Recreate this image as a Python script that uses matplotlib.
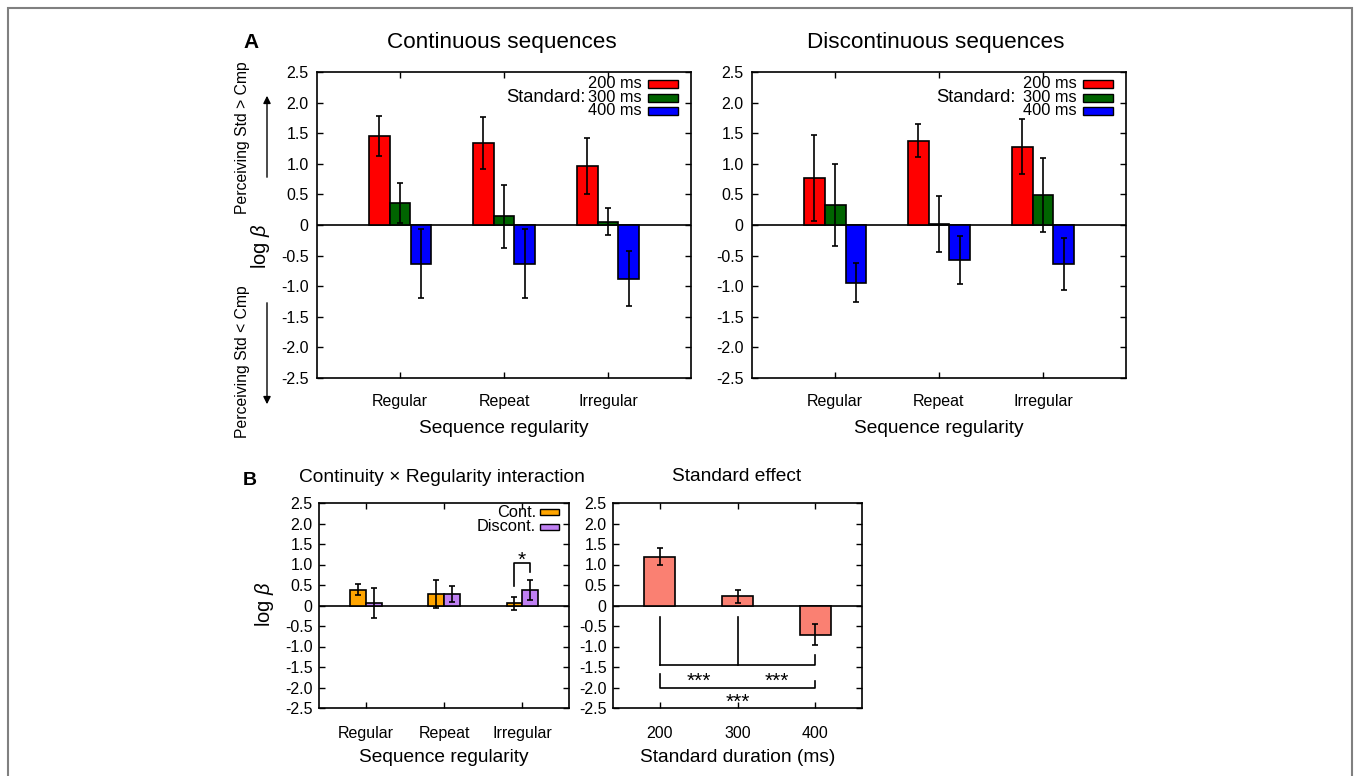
import matplotlib
matplotlib.use('Agg')
import matplotlib.pyplot as plt
from matplotlib.patches import Rectangle, FancyArrowPatch
import numpy as np

plt.rcParams['font.family'] = ['Liberation Sans', 'DejaVu Sans']
plt.rcParams['mathtext.fontset'] = 'custom'
plt.rcParams['mathtext.it'] = 'Liberation Sans:italic'
plt.rcParams['mathtext.rm'] = 'Liberation Sans'

# ---------------- data ----------------
regularity = ['Regular', 'Repeat', 'Irregular']
standard_labels = ['200 ms', '300 ms', '400 ms']

cont_200 = [1.45, 1.34, 0.96]
cont_300 = [0.36, 0.14, 0.05]
cont_400 = [-0.63, -0.63, -0.88]
cont_200_err = [0.33, 0.42, 0.46]
cont_300_err = [0.33, 0.52, 0.22]
cont_400_err = [0.56, 0.57, 0.45]

disc_200 = [0.77, 1.38, 1.28]
disc_300 = [0.33, 0.02, 0.49]
disc_400 = [-0.94, -0.57, -0.64]
disc_200_err = [0.70, 0.27, 0.45]
disc_300_err = [0.67, 0.46, 0.61]
disc_400_err = [0.32, 0.39, 0.43]

inter_labels = ['Cont.', 'Discont.']
inter_cont = [0.39, 0.28, 0.05]
inter_cont_err = [0.14, 0.34, 0.15]
inter_disc = [0.06, 0.28, 0.37]
inter_disc_err = [0.355, 0.205, 0.245]

durations = ['200', '300', '400']
std_effect = [1.19, 0.23, -0.71]
std_effect_err = [0.205, 0.16, 0.26]

ytick_vals = [2.5, 2.0, 1.5, 1.0, 0.5, 0, -0.5, -1.0, -1.5, -2.0, -2.5]
ytick_labels = ['2.5', '2.0', '1.5', '1.0', '0.5', '0', '-0.5', '-1.0', '-1.5', '-2.0', '-2.5']

# ---------------- style ----------------
W, H = 1356, 776
RED, GREEN, BLUE = '#ff0000', '#006400', '#0000ff'
ORANGE, PURPLE, SALMON = '#ffa500', '#bf80f2', '#fa8072'
LW = 1.2
TICK_FS = 11.5

fig = plt.figure(figsize=(W / 100, H / 100), dpi=100)


def fx(px):
    return px / W


def fy(py):
    return 1 - py / H


def make_ax(x0, y0, x1, y1):
    return fig.add_axes([fx(x0), fy(y1), fx(x1) - fx(x0), fy(y0) - fy(y1)])


def style_ax(ax, xlim, cats, xpad, ypad):
    ax.set_xlim(*xlim)
    ax.set_ylim(-2.5, 2.5)
    ax.set_xticks(range(len(cats)))
    ax.set_xticklabels(cats, fontsize=TICK_FS)
    ax.set_yticks(ytick_vals)
    ax.set_yticklabels(ytick_labels, fontsize=TICK_FS)
    ax.tick_params(direction='in', top=True, right=True, length=4, width=1.0,
                   colors='black')
    ax.tick_params(axis='x', pad=xpad)
    ax.tick_params(axis='y', pad=ypad)
    for s in ax.spines.values():
        s.set_linewidth(LW)
    ax.axhline(0, color='black', lw=LW, zorder=1)


ekw = dict(elinewidth=LW, capthick=LW, ecolor='black')

# ---------------- panel A ----------------
axA1 = make_ax(317, 72, 691, 378)
axA2 = make_ax(752, 72, 1126, 378)
x3 = np.arange(len(regularity))
bw = 0.2
for ax, series, std_x in [
    (axA1, [(cont_200, cont_200_err, RED), (cont_300, cont_300_err, GREEN),
            (cont_400, cont_400_err, BLUE)], 0.718),
    (axA2, [(disc_200, disc_200_err, RED), (disc_300, disc_300_err, GREEN),
            (disc_400, disc_400_err, BLUE)], 0.705)]:
    style_ax(ax, (-0.8, 2.8), regularity, 11.5, 6)
    for i, (vals, err, col) in enumerate(series):
        ax.bar(x3 + (i - 1) * bw, vals, bw, color=col, edgecolor='black',
               linewidth=LW, yerr=err, capsize=2.5, error_kw=ekw, zorder=2)
    # legend (gnuplot-like)
    ys = [0.961, 0.916, 0.873]
    for (vals, err, col), lab, yy in zip(series, standard_labels, ys):
        ax.add_patch(Rectangle((0.885, yy - 0.013), 0.08, 0.026,
                               transform=ax.transAxes, facecolor=col,
                               edgecolor='black', lw=1.0, zorder=5))
        ax.text(0.869, yy, lab, transform=ax.transAxes, ha='right',
                va='center', fontsize=11.8, zorder=5)
    ax.text(std_x, 0.916, 'Standard:', transform=ax.transAxes, ha='right',
            va='center', fontsize=13.2, zorder=5)
    ax.set_xlabel('Sequence regularity', fontsize=13.8)
    ax.xaxis.set_label_coords(0.5, -0.137)
    ax.xaxis.label.set_va('top')

fig.text(fx(251), fy(48), 'A', ha='center', va='baseline', fontsize=15,
         fontweight='bold')
fig.text(fx(502), fy(48), 'Continuous sequences', ha='center', va='baseline',
         fontsize=16.2)
fig.text(fx(936), fy(48), 'Discontinuous sequences', ha='center',
         va='baseline', fontsize=16.2)
fig.text(fx(242), fy(138), 'Perceiving Std > Cmp', rotation=90, ha='center',
         va='center', fontsize=11.3)
fig.text(fx(242), fy(362), 'Perceiving Std < Cmp', rotation=90, ha='center',
         va='center', fontsize=11.3)
fig.text(fx(261), fy(246), r'log $\it{\beta}$', rotation=90, ha='center',
         va='center', fontsize=14.5)
for (ya, yb) in [(180, 93), (300, 407)]:
    fig.patches.append(FancyArrowPatch((fx(267), fy(ya)), (fx(267), fy(yb)),
                                       transform=fig.transFigure,
                                       arrowstyle='-|>', mutation_scale=11,
                                       lw=1.0, color='black'))

# ---------------- panel B left ----------------
axB1 = make_ax(319, 503, 569, 708)
style_ax(axB1, (-0.6, 2.6), regularity, 13, 4.5)
bw2 = 0.2
axB1.bar(x3 - 0.1, inter_cont, bw2, color=ORANGE, edgecolor='black',
         linewidth=LW, yerr=inter_cont_err, capsize=2, error_kw=ekw, zorder=2)
axB1.bar(x3 + 0.1, inter_disc, bw2, color=PURPLE, edgecolor='black',
         linewidth=LW, yerr=inter_disc_err, capsize=2, error_kw=ekw, zorder=2)
for col, lab, yy in zip([ORANGE, PURPLE], inter_labels, [0.956, 0.883]):
    axB1.add_patch(Rectangle((0.884, yy - 0.013), 0.076, 0.026,
                             transform=axB1.transAxes, facecolor=col,
                             edgecolor='black', lw=1.0, zorder=5))
    axB1.text(0.868, yy, lab, transform=axB1.transAxes, ha='right',
              va='center', fontsize=11.8, zorder=5)
# significance bracket
axB1.plot([1.9, 1.9, 2.1, 2.1], [0.47, 1.03, 1.03, 0.81], color='black',
          lw=LW, zorder=3)
axB1.annotate('*', (2.0, 1.22), xytext=(0, -7.5), textcoords='offset points',
              ha='center', va='baseline', fontsize=15)
axB1.set_xlabel('Sequence regularity', fontsize=13.8)
axB1.xaxis.set_label_coords(0.5, -0.2)
axB1.xaxis.label.set_va('top')

fig.text(fx(250), fy(485), 'B', ha='center', va='baseline', fontsize=14,
         fontweight='bold')
fig.text(fx(442), fy(482), 'Continuity × Regularity interaction',
         ha='center', va='baseline', fontsize=13.8)
fig.text(fx(737), fy(481), 'Standard effect', ha='center', va='baseline',
         fontsize=13.8)
fig.text(fx(265), fy(604), r'log $\it{\beta}$', rotation=90, ha='center',
         va='center', fontsize=14.5)

# ---------------- panel B right ----------------
axB2 = make_ax(613, 503, 862, 708)
style_ax(axB2, (-0.6, 2.6), durations, 13, 4.5)
xd = np.arange(len(durations))
axB2.bar(xd, std_effect, 0.4, color=SALMON, edgecolor='black', linewidth=LW,
         yerr=std_effect_err, capsize=2, error_kw=ekw, zorder=2)
axB2.plot([0, 0], [-0.28, -1.46], color='black', lw=LW)
axB2.plot([1, 1], [-0.28, -1.46], color='black', lw=LW)
axB2.plot([0, 2, 2], [-1.46, -1.46, -1.21], color='black', lw=LW)
axB2.plot([0, 0, 2, 2], [-1.66, -2.0, -2.0, -1.83], color='black', lw=LW)
for xs, ys_ in [(0.5, -1.72), (1.5, -1.72), (1.0, -2.25)]:
    axB2.annotate('***', (xs, ys_), xytext=(0, -7.5),
                  textcoords='offset points', ha='center', va='baseline',
                  fontsize=15)
axB2.set_xlabel('Standard duration (ms)', fontsize=13.8)
axB2.xaxis.set_label_coords(0.5, -0.2)
axB2.xaxis.label.set_va('top')

# ---------------- outer frame ----------------
fig.patches.append(Rectangle((fx(8), -0.05), fx(1352) - fx(8),
                             fy(8) + 0.05, transform=fig.transFigure,
                             fill=False, edgecolor='#808080', lw=1.5))

fig.savefig('out.png', dpi=100)
